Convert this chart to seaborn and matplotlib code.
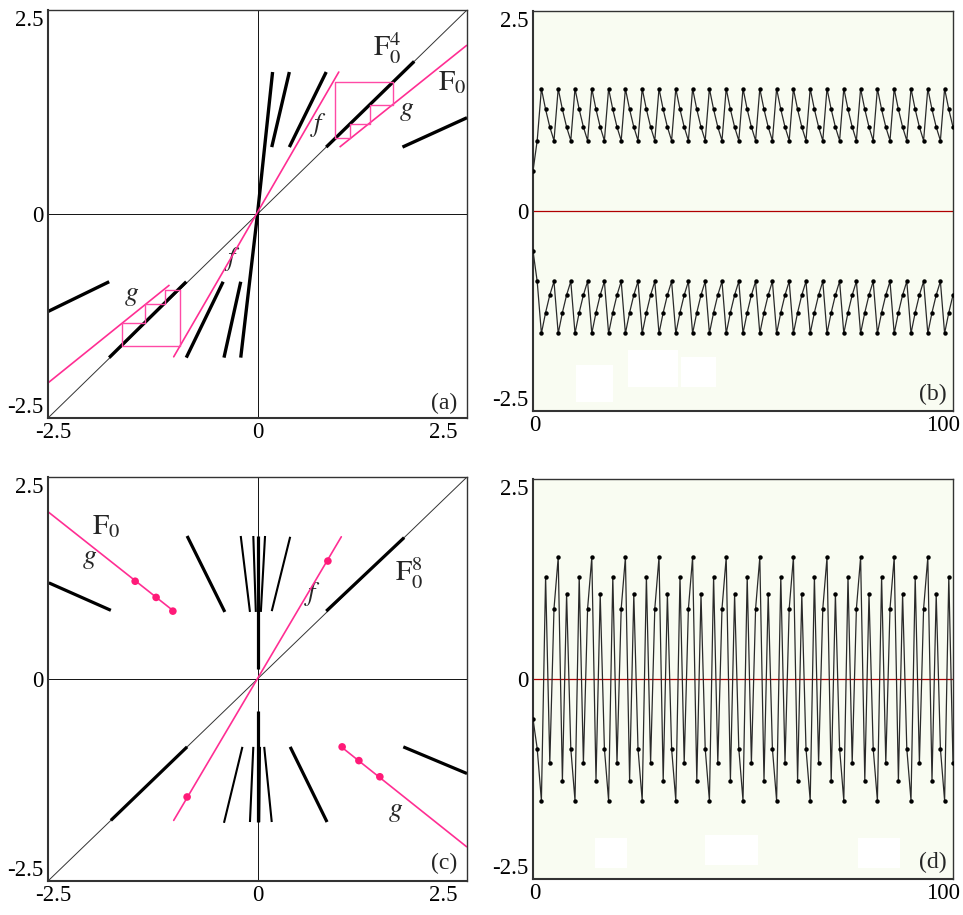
import numpy as np
import pandas as pd
import matplotlib
matplotlib.use('Agg')
import matplotlib.pyplot as plt
from matplotlib.transforms import ScaledTranslation
from matplotlib.patches import Rectangle
import seaborn as sns

# ---- panel (a): F0 (f, g) and the pieces of F0^4 ----
a_f_x = [-1.00, 0.97]
a_f_y = [-1.75, 1.74]
a_g_x0 = [0.98, -2.50]
a_g_y0 = [0.82, -2.07]
a_g_x1 = [2.50, -1.05]
a_g_y1 = [2.07, -0.87]
a_orbit = [0.93, 1.62, 1.34, 1.10]          # cobweb (upper right)
a_orbit_neg = [-0.93, -1.62, -1.34, -1.10]  # cobweb (lower left)
f4_x0 = [0.00, 0.17, 0.38, 0.82, 1.73, -2.51, -1.77, -0.85, -0.40, -0.20]
f4_y0 = [0.00, 0.82, 0.82, 0.82, 0.82, -1.20, -1.76, -1.76, -1.76, -1.76]
f4_x1 = [0.18, 0.38, 0.82, 1.87, 2.50, -1.77, -0.85, -0.41, -0.20, 0.00]
f4_y1 = [1.74, 1.74, 1.74, 1.87, 1.18, -0.83, -0.83, -0.83, -0.83, 0.00]

# ---- panel (c): F0 (f, g), orbit points and the pieces of F0^8 ----
c_f_x = [-1.00, 1.00]
c_f_y = [-1.75, 1.76]
c_g_x0 = [-2.50, 1.00]
c_g_y0 = [2.07, -0.84]
c_g_x1 = [-1.00, 2.50]
c_g_y1 = [0.84, -2.08]
c_orbit = [0.84, 1.46, -1.21, 1.01, -0.84, -1.46, 1.21, -1.01]
# thick pieces
f8_x0 = [-2.49, -0.84, 0.82, 0.00, 1.74, 0.83, -1.75, 0.00]
f8_y0 = [1.19, 1.77, 0.84, 0.12, -0.84, -1.77, -1.75, -0.40]
f8_x1 = [-1.75, -0.39, 1.75, 0.00, 2.50, 0.39, -0.84, 0.00]
f8_y1 = [0.85, 0.83, 1.75, 1.77, -1.17, -0.84, -0.84, -1.77]
# thin pieces near x = 0
f8t_x0 = [-0.20, -0.05, 0.09, 0.39, 0.17, 0.02, -0.09, -0.40]
f8t_y0 = [1.77, 1.77, 1.77, 1.76, -1.77, -1.77, -1.77, -1.78]
f8t_x1 = [-0.09, -0.02, 0.04, 0.17, 0.08, 0.03, -0.05, -0.18]
f8t_y1 = [0.83, 0.83, 0.83, 0.84, -0.84, -0.84, -0.84, -0.84]

# ---- panel (b): two orbits, n = 0..100 ----
b_upper = [
    0.50, 0.88,
    1.53, 1.27, 1.05, 0.88, 1.53, 1.27, 1.05, 0.88,
    1.53, 1.27, 1.05, 0.88, 1.53, 1.27, 1.05, 0.88,
    1.53, 1.27, 1.05, 0.88, 1.53, 1.27, 1.05, 0.88,
    1.53, 1.27, 1.05, 0.88, 1.53, 1.27, 1.05, 0.88,
    1.53, 1.27, 1.05, 0.88, 1.53, 1.27, 1.05, 0.88,
    1.53, 1.27, 1.05, 0.88, 1.53, 1.27, 1.05, 0.88,
    1.53, 1.27, 1.05, 0.88, 1.53, 1.27, 1.05, 0.88,
    1.53, 1.27, 1.05, 0.88, 1.53, 1.27, 1.05, 0.88,
    1.53, 1.27, 1.05, 0.88, 1.53, 1.27, 1.05, 0.88,
    1.53, 1.27, 1.05, 0.88, 1.53, 1.27, 1.05, 0.88,
    1.53, 1.27, 1.05, 0.88, 1.53, 1.27, 1.05, 0.88,
    1.53, 1.27, 1.05, 0.88, 1.53, 1.27, 1.05, 0.88,
    1.53, 1.27, 1.05,
]
b_lower = [
    -0.50, -0.88,
    -1.53, -1.27, -1.05, -0.88, -1.53, -1.27, -1.05, -0.88,
    -1.53, -1.27, -1.05, -0.88, -1.53, -1.27, -1.05, -0.88,
    -1.53, -1.27, -1.05, -0.88, -1.53, -1.27, -1.05, -0.88,
    -1.53, -1.27, -1.05, -0.88, -1.53, -1.27, -1.05, -0.88,
    -1.53, -1.27, -1.05, -0.88, -1.53, -1.27, -1.05, -0.88,
    -1.53, -1.27, -1.05, -0.88, -1.53, -1.27, -1.05, -0.88,
    -1.53, -1.27, -1.05, -0.88, -1.53, -1.27, -1.05, -0.88,
    -1.53, -1.27, -1.05, -0.88, -1.53, -1.27, -1.05, -0.88,
    -1.53, -1.27, -1.05, -0.88, -1.53, -1.27, -1.05, -0.88,
    -1.53, -1.27, -1.05, -0.88, -1.53, -1.27, -1.05, -0.88,
    -1.53, -1.27, -1.05, -0.88, -1.53, -1.27, -1.05, -0.88,
    -1.53, -1.27, -1.05, -0.88, -1.53, -1.27, -1.05, -0.88,
    -1.53, -1.27, -1.05,
]

# ---- panel (d): one orbit, n = 0..100 ----
d_series = [
    -0.50, -0.87,
    -1.52, 1.28, -1.05, 0.88, 1.52, -1.27, 1.06, -0.87,
    -1.52, 1.28, -1.05, 0.88, 1.52, -1.27, 1.06, -0.87,
    -1.52, 1.28, -1.05, 0.88, 1.52, -1.27, 1.06, -0.87,
    -1.52, 1.28, -1.05, 0.88, 1.52, -1.27, 1.06, -0.87,
    -1.52, 1.28, -1.05, 0.88, 1.52, -1.27, 1.06, -0.87,
    -1.52, 1.28, -1.05, 0.88, 1.52, -1.27, 1.06, -0.87,
    -1.52, 1.28, -1.05, 0.88, 1.52, -1.27, 1.06, -0.87,
    -1.52, 1.28, -1.05, 0.88, 1.52, -1.27, 1.06, -0.87,
    -1.52, 1.28, -1.05, 0.88, 1.52, -1.27, 1.06, -0.87,
    -1.52, 1.28, -1.05, 0.88, 1.52, -1.27, 1.06, -0.87,
    -1.52, 1.28, -1.05, 0.88, 1.52, -1.27, 1.06, -0.87,
    -1.52, 1.28, -1.05, 0.88, 1.52, -1.27, 1.06, -0.87,
    -1.52, 1.28, -1.05,
]

PINK = '#ff2e93'
PINK_WEB = '#ff4aa6'
PINK_DOT = '#ff1a78'
BG = '#f9fcf2'
TICK_FS = 16.5

sns.set_theme(style='white')
plt.rcParams['font.family'] = ['Liberation Serif', 'DejaVu Serif']
plt.rcParams['mathtext.fontset'] = 'stix'

fig = plt.figure(figsize=(9.63, 9.15), dpi=100)


def px_axes(left, top, right, bottom):
    return fig.add_axes([left / 963, 1 - bottom / 915,
                         (right - left) / 963, (bottom - top) / 915])


def shift(label, dx_px=0, dy_px=0):
    label.set_transform(label.get_transform() +
                        ScaledTranslation(dx_px / 100, dy_px / 100, fig.dpi_scale_trans))


def frame(ax, xticks, xlabels, x_shifts):
    ax.set_yticks([-2.5, 0, 2.5])
    ax.set_yticklabels(['-2.5', '0', '2.5'])
    ax.set_xticks(xticks)
    ax.set_xticklabels(xlabels)
    ax.tick_params(length=0, labelsize=TICK_FS, pad=3, colors='black')
    ylabs = ax.get_yticklabels()
    ylabs[0].set_va('bottom')
    ylabs[2].set_va('top')
    xlabs = ax.get_xticklabels()
    xlabs[-1].set_ha('right')
    for lab, dx in zip(xlabs, x_shifts):
        shift(lab, dx, 0)
    for s in ax.spines.values():
        s.set_color('#333333')
        s.set_linewidth(1.0)
    ax.spines['left'].set_linewidth(1.5)
    ax.spines['bottom'].set_linewidth(1.5)
    ax.set_xlabel('')
    ax.set_ylabel('')


def segments(ax, x0, y0, x1, y1, color, lw):
    rows = []
    for i, (a, b, c, d) in enumerate(zip(x0, y0, x1, y1)):
        rows.append({'seg': i, 'x': a, 'y': b})
        rows.append({'seg': i, 'x': c, 'y': d})
    df = pd.DataFrame(rows)
    sns.lineplot(data=df, x='x', y='y', units='seg', estimator=None, sort=False,
                 color=color, lw=lw, ax=ax, solid_capstyle='butt')


def cobweb(ax, orbit):
    xs, ys = [], []
    for i in range(len(orbit)):
        xn, xn1 = orbit[i], orbit[(i + 1) % len(orbit)]
        xs += [xn, xn]
        ys += [xn, xn1]
    xs.append(orbit[0])
    ys.append(orbit[0])
    ax.plot(xs, ys, color=PINK_WEB, lw=1.0, zorder=4)


def map_base(ax):
    ax.set_xlim(-2.5, 2.5)
    ax.set_ylim(-2.5, 2.5)
    ax.set_facecolor('white')
    ax.axhline(0, color='#111111', lw=0.7, zorder=1)
    ax.axvline(0, color='#111111', lw=0.7, zorder=1)
    ax.axline((0, 0), slope=1, color='#333333', lw=0.7, zorder=1)


# ---------------- (a) ----------------
ax_a = px_axes(48, 10, 467, 418)
map_base(ax_a)
segments(ax_a, f4_x0, f4_y0, f4_x1, f4_y1, 'black', 2.4)
ax_a.plot(a_f_x, a_f_y, color=PINK, lw=1.2, zorder=4)
segments(ax_a, a_g_x0, a_g_y0, a_g_x1, a_g_y1, PINK, 1.2)
cobweb(ax_a, a_orbit)
cobweb(ax_a, a_orbit_neg)
ax_a.text(1.38, 1.93, r'$\mathrm{F}_0^4$', fontsize=21, ha='left', va='baseline')
ax_a.text(2.15, 1.52, r'$\mathrm{F}_0$', fontsize=21, ha='left', va='baseline')
ax_a.text(1.78, 1.27, r'$g$', fontsize=20, ha='center', va='center')
ax_a.text(0.73, 1.09, r'$f$', fontsize=19, ha='center', va='center')
ax_a.text(-0.30, -0.55, r'$f$', fontsize=19, ha='center', va='center')
ax_a.text(-1.50, -1.00, r'$g$', fontsize=20, ha='center', va='center')
ax_a.text(2.23, -2.32, '(a)', fontsize=17, ha='center', va='center')
frame(ax_a, [-2.5, 0, 2.5], ['-2.5', '0', '2.5'], [5, 0, -10])

# ---------------- (c) ----------------
ax_c = px_axes(48, 477, 467, 881)
map_base(ax_c)
segments(ax_c, f8_x0, f8_y0, f8_x1, f8_y1, 'black', 2.3)
segments(ax_c, f8t_x0, f8t_y0, f8t_x1, f8t_y1, 'black', 1.5)
ax_c.plot(c_f_x, c_f_y, color=PINK, lw=1.2, zorder=4)
segments(ax_c, c_g_x0, c_g_y0, c_g_x1, c_g_y1, PINK, 1.2)
dots_x = c_orbit
dots_y = c_orbit[1:] + c_orbit[:1]
sns.scatterplot(x=dots_x, y=dots_y, color=PINK_DOT, s=30, edgecolor='none',
                ax=ax_c, zorder=5)
ax_c.text(-1.97, 1.79, r'$\mathrm{F}_0$', fontsize=21, ha='left', va='baseline')
ax_c.text(-2.00, 1.49, r'$g$', fontsize=20, ha='center', va='center')
ax_c.text(0.66, 1.05, r'$f$', fontsize=19, ha='center', va='center')
ax_c.text(1.64, 1.21, r'$\mathrm{F}_0^8$', fontsize=21, ha='left', va='baseline')
ax_c.text(1.65, -1.64, r'$g$', fontsize=20, ha='center', va='center')
ax_c.text(2.23, -2.28, '(c)', fontsize=17, ha='center', va='center')
frame(ax_c, [-2.5, 0, 2.5], ['-2.5', '0', '2.5'], [5, 0, -10])


# ---------------- (b), (d) ----------------
def series_panel(ax, series_list, blanks, tag):
    ax.set_xlim(0, 100)
    ax.set_ylim(-2.5, 2.5)
    ax.set_facecolor(BG)
    for (x, y, w, h) in blanks:
        ax.add_patch(Rectangle((x, y), w, h, facecolor='white', edgecolor='none', zorder=0.5))
    ax.axhline(0, color='#b00000', lw=0.9, zorder=1)
    for vals in series_list:
        steps = np.arange(len(vals))
        sns.lineplot(x=steps, y=vals, ax=ax, color='#2a2a2a', lw=0.9, marker='o',
                     markersize=3.2, markeredgewidth=0, markerfacecolor='black',
                     estimator=None, sort=False, zorder=3)
    ax.text(95.2, -2.29, tag, fontsize=17, ha='center', va='center')
    frame(ax, [0, 100], ['0', '100'], [2, 7])


ax_b = px_axes(533, 11, 953, 411)
series_panel(ax_b, [b_upper, b_lower],
             [(10.2, -2.39, 8.9, 0.46), (22.6, -2.20, 11.9, 0.46), (35.2, -2.20, 8.4, 0.38)],
             '(b)')

ax_d = px_axes(533, 479, 953, 879)
series_panel(ax_d, [d_series],
             [(14.8, -2.36, 7.6, 0.37), (41.0, -2.32, 12.6, 0.37), (77.4, -2.36, 10.0, 0.37)],
             '(d)')

fig.savefig('out.png', dpi=100)
